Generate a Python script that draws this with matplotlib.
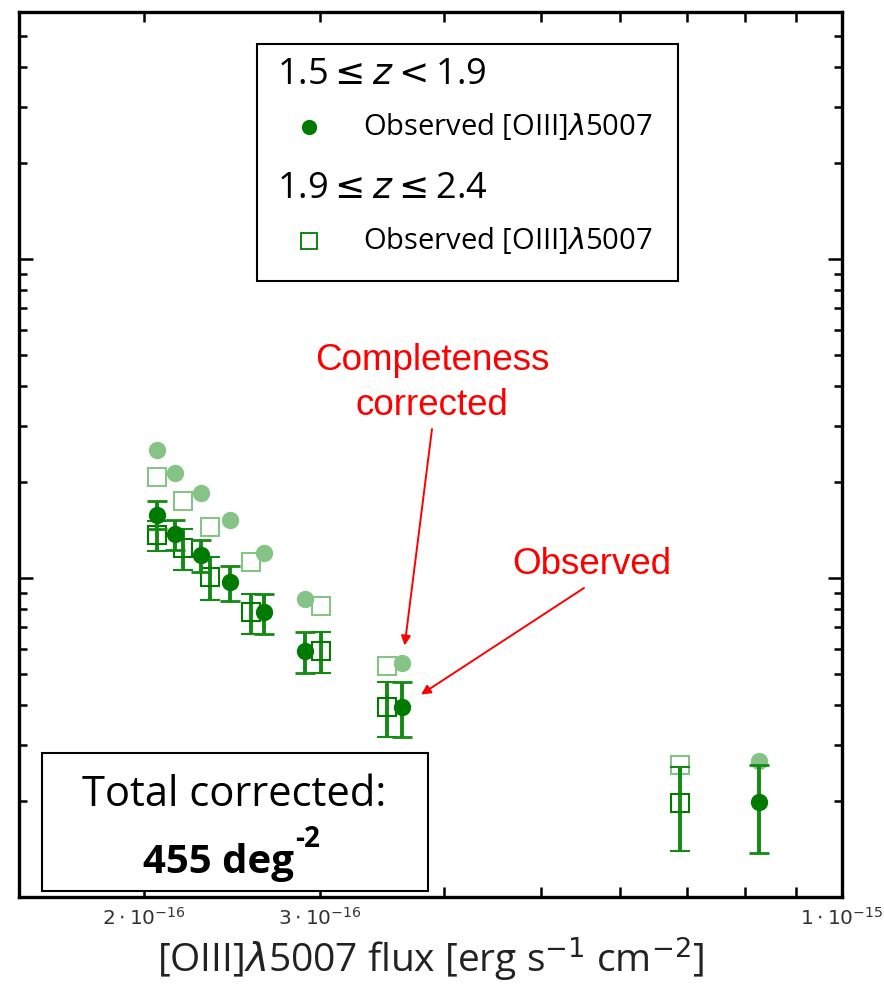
import numpy as np
import matplotlib
matplotlib.use('Agg')
import matplotlib.pyplot as plt
from matplotlib.patches import Rectangle
from matplotlib.ticker import FixedLocator, NullFormatter, LogLocator

# 1.5 <= z < 1.9 sample (circles)
flux_lo = [2.06e-16, 2.15e-16, 2.28e-16, 2.44e-16, 2.64e-16, 2.90e-16, 3.63e-16, 8.25e-16]
obs_lo = [15.8, 13.7, 11.8, 9.7, 7.8, 5.9, 3.95, 1.98]
err_lo = [1.6, 1.5, 1.35, 1.24, 1.1, 0.87, 0.78, 0.61]
corr_lo = [25.2, 21.4, 18.5, 15.2, 12.0, 8.6, 5.4, 2.66]

# 1.9 <= z <= 2.4 sample (squares)
flux_hi = [2.06e-16, 2.19e-16, 2.33e-16, 2.56e-16, 3.01e-16, 3.50e-16, 6.88e-16]
obs_hi = [13.6, 12.4, 10.1, 7.8, 5.9, 3.95, 1.97]
err_hi = [1.46, 1.8, 1.56, 1.1, 0.88, 0.78, 0.58]
corr_hi = [20.8, 17.5, 14.5, 11.2, 8.2, 5.3, 2.6]

xticks = [2e-16, 3e-16, 1e-15]
xtick_labels = [r'$2\cdot10^{-16}$', r'$3\cdot10^{-16}$', r'$1\cdot10^{-15}$']

dark = '#007a00'
bar = '#138a13'
light = '#86c386'

W, H = 884, 990


def fp(x, y):
    # pixel position measured from the top-left corner -> figure fraction
    return x / W, 1 - y / H


fig = plt.figure(figsize=(W / 100, H / 100), dpi=100)
ax = fig.add_axes([19 / W, 93 / H, 823 / W, 885 / H])
ax.set_xscale('log')
ax.set_yscale('log')
ax.set_xlim(1.5e-16, 1e-15)
ax.set_ylim(1.0, 595)

# completeness corrected (faded)
ax.plot(flux_hi, corr_hi, 's', ms=12.5, mfc='none', mec=light, mew=1.5, zorder=2)
ax.plot(flux_lo, corr_lo, 'o', ms=12.5, color=light, mec='none', zorder=2)

# observed with errors
ax.errorbar(flux_hi, obs_hi, yerr=err_hi, fmt='s', ms=12.5, mfc='none', mec=dark, mew=1.5,
            ecolor=bar, elinewidth=2.8, capsize=7, capthick=2, zorder=3)
ax.errorbar(flux_lo, obs_lo, yerr=err_lo, fmt='o', ms=12.5, color=dark, mec='none',
            ecolor=bar, elinewidth=2.8, capsize=7, capthick=2, zorder=4)

ax.xaxis.set_major_locator(FixedLocator(xticks))
ax.xaxis.set_minor_locator(FixedLocator([4e-16, 5e-16, 6e-16, 7e-16, 8e-16, 9e-16]))
ax.set_xticklabels(xtick_labels)
ax.xaxis.set_minor_formatter(NullFormatter())
ax.yaxis.set_major_locator(LogLocator(base=10))
ax.yaxis.set_minor_locator(LogLocator(base=10, subs=np.arange(2, 10)))
ax.yaxis.set_major_formatter(NullFormatter())
ax.yaxis.set_minor_formatter(NullFormatter())

ax.tick_params(axis='both', which='both', direction='in', top=True, right=True, width=1.8)
ax.tick_params(axis='x', which='both', length=7, labelsize=14.5, pad=7, labelcolor='#333333')
ax.tick_params(axis='y', which='major', length=10)
ax.tick_params(axis='y', which='minor', length=6)
for s in ax.spines.values():
    s.set_linewidth(2.4)

ax.set_xlabel(r'[OIII]$\lambda$5007 flux [erg s$^{-1}$ cm$^{-2}$]', fontsize=28,
              family='Open Sans', color='#222222', labelpad=4)

# legend box
x0, y0 = fp(257, 281)
x1, y1 = fp(678, 44)
fig.add_artist(Rectangle((x0, y0), x1 - x0, y1 - y0, transform=fig.transFigure,
                         fill=True, fc='white', ec='black', lw=1.5, zorder=5))
fig.text(*fp(277, 75), r'1.5$\leq z<$1.9', fontsize=26, va='center', ha='left',
         family='Open Sans', zorder=6)
fig.text(*fp(277, 189), r'1.9$\leq z\leq$2.4', fontsize=26, va='center', ha='left',
         family='Open Sans', zorder=6)
fig.text(*fp(363, 127), r'Observed [OIII]$\lambda$5007', fontsize=21, va='center', ha='left',
         family='Open Sans', zorder=6)
fig.text(*fp(363, 241), r'Observed [OIII]$\lambda$5007', fontsize=21, va='center', ha='left',
         family='Open Sans', zorder=6)
lx, ly = fp(309, 127)
fig.add_artist(plt.Line2D([lx], [ly], marker='o', ms=11, color=dark, mec='none',
                          transform=fig.transFigure, zorder=6))
lx, ly = fp(309, 241)
fig.add_artist(plt.Line2D([lx], [ly], marker='s', ms=11, mfc='none', mec=dark, mew=1.3,
                          transform=fig.transFigure, zorder=6))

# total box
x0, y0 = fp(42, 891)
x1, y1 = fp(428, 753)
fig.add_artist(Rectangle((x0, y0), x1 - x0, y1 - y0, transform=fig.transFigure,
                         fill=True, fc='white', ec='black', lw=1.5, zorder=5))
fig.text(*fp(234, 795), 'Total corrected:', fontsize=30, ha='center', va='center',
         family='Open Sans', zorder=6)
num = fig.text(*fp(143, 873), '455 deg', fontsize=29, ha='left', va='baseline',
               family='Open Sans', weight='bold', zorder=6)
fig.canvas.draw()
bb = num.get_window_extent()
fig.text(bb.x1 / W + 1 / W, fp(0, 847)[1], '-2', fontsize=20, ha='left', va='baseline',
         family='Open Sans', weight='bold', zorder=6)

# red annotations
fig.text(*fp(432, 361), 'Completeness', fontsize=26.5, ha='center', va='center',
         family='Liberation Sans', color='red')
fig.text(*fp(432, 405), 'corrected', fontsize=26.5, ha='center', va='center',
         family='Liberation Sans', color='red')
fig.text(*fp(592, 565), 'Observed', fontsize=26.5, ha='center', va='center',
         family='Liberation Sans', color='red')

tx, ty = 432, H - 429
ax.annotate('', xy=(flux_lo[6], corr_lo[6]), xycoords='data',
            xytext=(tx, ty), textcoords='figure pixels',
            arrowprops=dict(arrowstyle='-|>', color='red', lw=1.4, mutation_scale=14,
                            shrinkA=0, shrinkB=13))
tx, ty = 584, H - 588
ax.annotate('', xy=(flux_lo[6], obs_lo[6]), xycoords='data',
            xytext=(tx, ty), textcoords='figure pixels',
            arrowprops=dict(arrowstyle='-|>', color='red', lw=1.4, mutation_scale=14,
                            shrinkA=0, shrinkB=16))

fig.savefig('out.png', dpi=100)
